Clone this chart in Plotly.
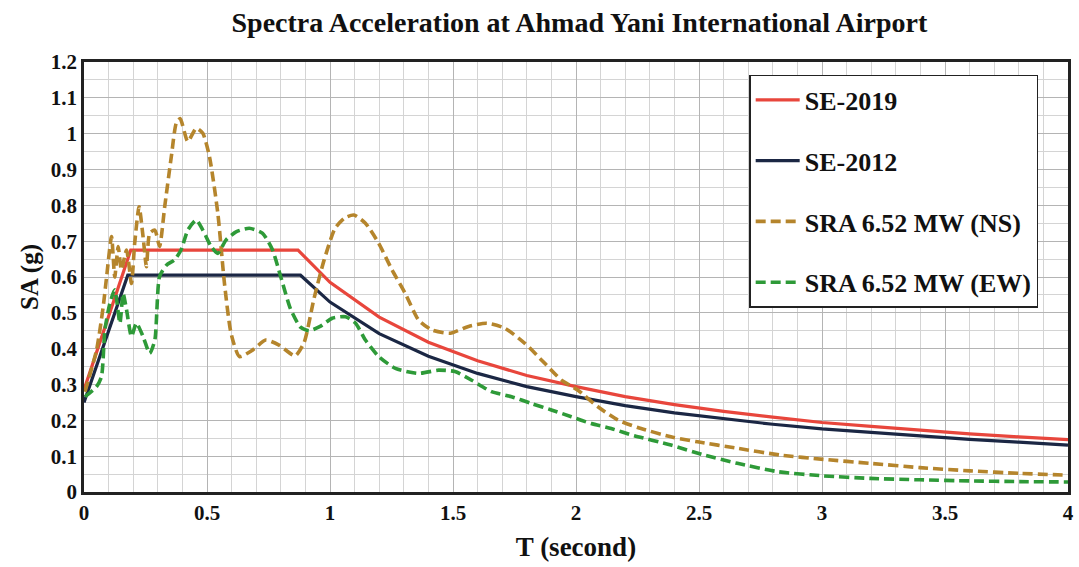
import plotly.graph_objects as go

# ---- data ----
t_se2019 = [0, 0.19, 0.87, 1.0, 1.2, 1.4, 1.6, 1.8, 2.0, 2.2, 2.4, 2.6, 2.8, 3.0, 3.2, 3.4, 3.6, 3.8, 4.0]
sa_se2019 = [0.285, 0.675, 0.675, 0.585, 0.488, 0.418, 0.366, 0.325, 0.294, 0.266, 0.244, 0.225, 0.209, 0.194, 0.183, 0.172, 0.162, 0.154, 0.146]

t_se2012 = [0, 0.178, 0.88, 1.0, 1.2, 1.4, 1.6, 1.8, 2.0, 2.2, 2.4, 2.6, 2.8, 3.0, 3.2, 3.4, 3.6, 3.8, 4.0]
sa_se2012 = [0.25, 0.605, 0.605, 0.53, 0.442, 0.379, 0.331, 0.294, 0.266, 0.241, 0.221, 0.204, 0.189, 0.176, 0.166, 0.156, 0.147, 0.139, 0.131]

t_ns = [0.004, 0.051, 0.078, 0.092, 0.112, 0.125, 0.139, 0.152, 0.173, 0.193, 0.206, 0.224, 0.240,
        0.254, 0.267, 0.288, 0.307, 0.328, 0.355, 0.375, 0.391, 0.422, 0.456, 0.483, 0.510, 0.544,
        0.571, 0.598, 0.632, 0.685, 0.739, 0.793, 0.858, 0.895, 0.935, 0.975, 1.02, 1.06, 1.097,
        1.144, 1.198, 1.252, 1.306, 1.360, 1.414, 1.489, 1.563, 1.637, 1.711, 1.792, 1.873, 1.941,
        2.008, 2.089, 2.170, 2.251, 2.386, 2.494, 2.656, 2.832, 3.006, 3.196, 3.398, 3.601, 3.803, 4.0]
sa_ns = [0.28, 0.396, 0.517, 0.601, 0.713, 0.60, 0.685, 0.62, 0.675, 0.582, 0.694, 0.796, 0.713,
         0.629, 0.722, 0.731, 0.685, 0.796, 0.936, 1.029, 1.042, 0.978, 1.015, 1.001, 0.936, 0.778,
         0.582, 0.442, 0.378, 0.396, 0.424, 0.410, 0.380, 0.418, 0.540, 0.645, 0.735, 0.765, 0.773,
         0.750, 0.694, 0.620, 0.554, 0.480, 0.452, 0.443, 0.462, 0.471, 0.457, 0.415, 0.359, 0.312,
         0.284, 0.238, 0.201, 0.180, 0.154, 0.140, 0.122, 0.103, 0.091, 0.080, 0.068, 0.059, 0.052, 0.047]

t_ew = [0.004, 0.051, 0.071, 0.085, 0.105, 0.125, 0.146, 0.159, 0.173, 0.193, 0.213, 0.240, 0.267,
        0.288, 0.307, 0.335, 0.368, 0.395, 0.422, 0.456, 0.483, 0.517, 0.544, 0.577, 0.618, 0.672,
        0.726, 0.766, 0.800, 0.840, 0.880, 0.915, 0.960, 1.009, 1.063, 1.104, 1.144, 1.198, 1.266,
        1.360, 1.441, 1.508, 1.576, 1.657, 1.738, 1.819, 1.900, 1.981, 2.062, 2.143, 2.237, 2.386,
        2.521, 2.656, 2.818, 3.006, 3.196, 3.398, 3.601, 3.803, 4.0]
sa_ew = [0.266, 0.294, 0.322, 0.452, 0.526, 0.564, 0.471, 0.554, 0.508, 0.434, 0.471, 0.434, 0.387,
         0.424, 0.601, 0.633, 0.648, 0.676, 0.731, 0.759, 0.731, 0.685, 0.666, 0.703, 0.726, 0.736,
         0.722, 0.676, 0.600, 0.510, 0.460, 0.450, 0.462, 0.485, 0.489, 0.471, 0.424, 0.378, 0.345,
         0.331, 0.340, 0.336, 0.312, 0.280, 0.266, 0.247, 0.229, 0.210, 0.191, 0.177, 0.157, 0.131,
         0.103, 0.080, 0.057, 0.045, 0.038, 0.034, 0.031, 0.029, 0.028]

x_ticks = [0, 0.5, 1, 1.5, 2, 2.5, 3, 3.5, 4]
y_ticks = [0, 0.1, 0.2, 0.3, 0.4, 0.5, 0.6, 0.7, 0.8, 0.9, 1, 1.1, 1.2]

SERIF = "Liberation Serif, Times New Roman, serif"

fig = go.Figure()
fig.add_trace(go.Scatter(x=t_se2019, y=sa_se2019, mode="lines", name="<b>SE-2019</b>",
                         line=dict(color="#e8463c", width=3.2), legendgroup="a"))
fig.add_trace(go.Scatter(x=t_se2012, y=sa_se2012, mode="lines", name="<b>SE-2012</b>",
                         line=dict(color="#1b2744", width=3.2), legendgroup="b"))
fig.add_trace(go.Scatter(x=t_ns, y=sa_ns, mode="lines", name="<b>SRA 6.52 MW (NS)</b>",
                         line=dict(color="#b5852c", width=3.6, dash="10px,5px", shape="spline", smoothing=0.6),
                         legendgroup="c"))
fig.add_trace(go.Scatter(x=t_ew, y=sa_ew, mode="lines", name="<b>SRA 6.52 MW (EW)</b>",
                         line=dict(color="#2e9a38", width=3.6, dash="10px,5px", shape="spline", smoothing=0.6),
                         legendgroup="d"))

fig.update_layout(
    width=1079, height=567,
    margin=dict(l=84, r=5, t=62, b=75),
    paper_bgcolor="white", plot_bgcolor="white",
    title=dict(text="<b>Spectra Acceleration at Ahmad Yani International Airport</b>",
               x=0.537, xanchor="center", y=0.96, yanchor="middle",
               font=dict(family=SERIF, size=28, color="#111111")),
    font=dict(family=SERIF, color="#111111"),
    legend=dict(x=0.676, y=0.97, xanchor="left", yanchor="top",
                bgcolor="white", bordercolor="#222222", borderwidth=1.5,
                font=dict(family=SERIF, size=26, color="#111111"),
                traceorder="grouped", tracegroupgap=24,
                itemwidth=44),
    showlegend=True,
)

fig.update_xaxes(
    range=[0, 4], tickvals=x_ticks, ticktext=[f"<b>{v:g}</b>" for v in x_ticks],
    tickfont=dict(family=SERIF, size=21), ticks="",
    showgrid=True, gridcolor="#b4b4b4", gridwidth=1.3,
    minor=dict(dtick=0.1, showgrid=True, gridcolor="#d4d4d4", gridwidth=1),
    showline=True, linecolor="#222222", linewidth=2.5, mirror=True,
    zeroline=False,
    title=dict(text="<b>T (second)</b>", font=dict(family=SERIF, size=27), standoff=14),
)
fig.update_yaxes(
    range=[0, 1.2], tickvals=y_ticks, ticktext=[f"<b>{v:g}</b>" for v in y_ticks],
    tickfont=dict(family=SERIF, size=21), ticks="",
    showgrid=True, gridcolor="#b4b4b4", gridwidth=1.3,
    minor=dict(dtick=0.05, showgrid=True, gridcolor="#d4d4d4", gridwidth=1),
    showline=True, linecolor="#222222", linewidth=2.5, mirror=True,
    zeroline=False,
    title=dict(text="<b>SA (g)</b>", font=dict(family=SERIF, size=25), standoff=6),
)

fig.write_html("out.html")
